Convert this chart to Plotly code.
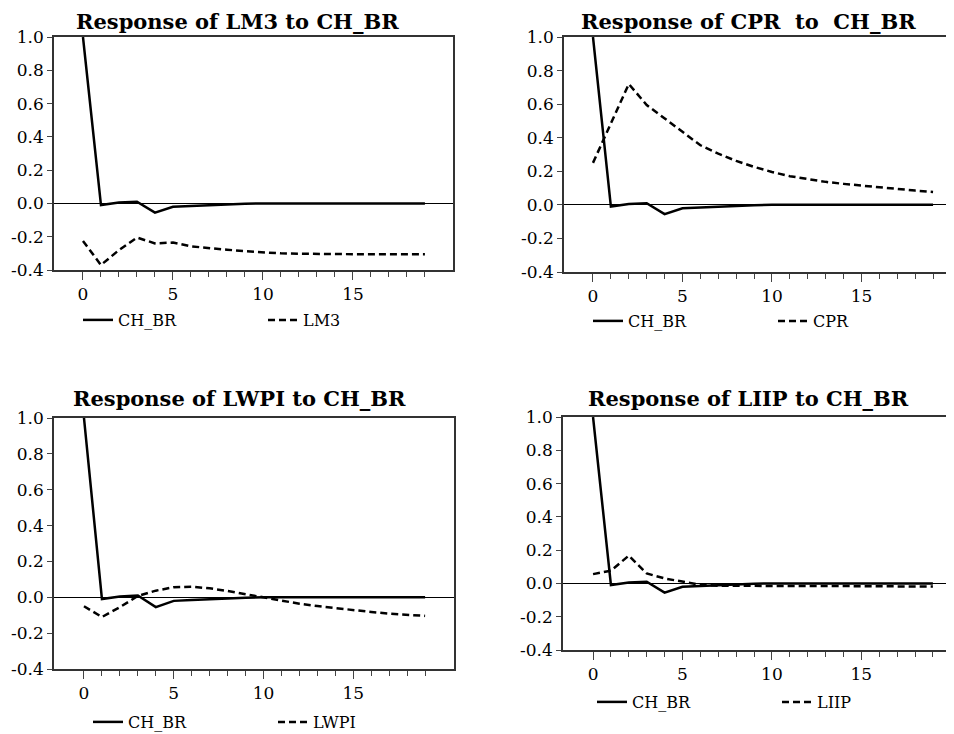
import plotly.graph_objects as go

# Periodos del impulso-respuesta
horizonte = list(range(20))

# Respuesta propia de CH_BR (igual en los cuatro paneles)
ch_br = [1.0, -0.01, 0.005, 0.01, -0.055, -0.02, -0.015, -0.01, -0.005, -0.002,
         0.0, 0.0, 0.0, 0.0, 0.0, 0.0, 0.0, 0.0, 0.0, 0.0]

lm3 = [-0.225, -0.37, -0.28, -0.205, -0.24, -0.235, -0.258, -0.27, -0.278, -0.287,
       -0.294, -0.3, -0.302, -0.304, -0.305, -0.305, -0.305, -0.305, -0.305, -0.305]
cpr = [0.25, 0.48, 0.72, 0.595, 0.515, 0.435, 0.355, 0.305, 0.262, 0.226,
       0.196, 0.171, 0.153, 0.137, 0.125, 0.114, 0.103, 0.093, 0.085, 0.077]
lwpi = [-0.05, -0.11, -0.055, 0.007, 0.037, 0.056, 0.059, 0.05, 0.035, 0.017,
        -0.002, -0.019, -0.036, -0.049, -0.061, -0.072, -0.082, -0.091, -0.099, -0.104]
liip = [0.056, 0.077, 0.167, 0.06, 0.03, 0.01, -0.008, -0.014, -0.015, -0.015,
        -0.015, -0.015, -0.015, -0.016, -0.016, -0.017, -0.017, -0.018, -0.018, -0.019]

variables = ["LM3", "CPR", "LWPI", "LIIP"]
respuestas = [lm3, cpr, lwpi, liip]
titulos = ["Response of LM3 to CH_BR",
           "Response of CPR\u00a0 to\u00a0 CH_BR",
           "Response of LWPI to CH_BR",
           "Response of LIIP to CH_BR"]

y_ticks = [-0.4, -0.2, 0.0, 0.2, 0.4, 0.6, 0.8, 1.0]
y_ticktext = ["-0.4", "-0.2", "0.0", "0.2", "0.4", "0.6", "0.8", "1.0"]
x_major = [0, 5, 10, 15]
x_minor = [v for v in horizonte if v not in x_major]

# La pagina deja 8px de margen en el body: la figura ocupa el resto de la ventana
OFF = 8
W, H = 954 - OFF, 734 - OFF
FUENTE = "DejaVu Serif"


def px_x(px):
    return (px - OFF) / W


def px_y(py):
    return 1 - (py - OFF) / H


# Caja de cada panel en pixeles de la ventana: izquierda, derecha, arriba, abajo, rango x
# (ty = borde superior del titulo)
paneles = [
    dict(l=54, r=453, t=37, b=270, xr=[-1.61, 20.56], tx=237, ty=8, lx=120, ly=320, mirror=True),
    dict(l=564, r=954, t=37, b=272, xr=[-1.62, 20.17], tx=748, ty=8, lx=630, ly=321, mirror=False),
    dict(l=54, r=454, t=418, b=669, xr=[-1.67, 20.61], tx=239, ty=385, lx=130, ly=722, mirror=True),
    dict(l=563, r=954, t=417, b=650, xr=[-1.68, 20.18], tx=748, ty=385, lx=634, ly=702, mirror=False),
]

fig = go.Figure()
layout = {}
anotaciones = []

for i, (var, resp, titulo, p) in enumerate(zip(variables, respuestas, titulos, paneles)):
    n = i + 1
    xa = "x" if n == 1 else f"x{n}"
    ya = "y" if n == 1 else f"y{n}"
    leg = "legend" if n == 1 else f"legend{n}"

    fig.add_trace(go.Scatter(
        x=horizonte, y=ch_br, mode="lines", name="CH_BR",
        line=dict(color="black", width=2.5), xaxis=xa, yaxis=ya, legend=leg
    ))
    fig.add_trace(go.Scatter(
        x=horizonte, y=resp, mode="lines", name=var,
        line=dict(color="black", width=2.5, dash="7px,4px"), xaxis=xa, yaxis=ya, legend=leg
    ))

    xkey = "xaxis" if n == 1 else f"xaxis{n}"
    ykey = "yaxis" if n == 1 else f"yaxis{n}"
    layout[xkey] = dict(
        domain=[px_x(p["l"]), min(px_x(p["r"]), 1.0)], anchor=ya, range=p["xr"],
        tickmode="array", tickvals=x_major, ticks="outside", ticklen=8, tickwidth=1.2,
        tickcolor="#444", showgrid=False, zeroline=False,
        showline=True, linecolor="#333", linewidth=1.5, mirror=True,
        minor=dict(tickmode="array", tickvals=x_minor, ticks="outside", ticklen=5,
                   tickwidth=1.2, tickcolor="#444", showgrid=False),
        tickfont=dict(family=FUENTE, size=17, color="black"),
    )
    layout[ykey] = dict(
        domain=[px_y(p["b"]), px_y(p["t"])], anchor=xa, range=[-0.4, 1.0],
        tickmode="array", tickvals=y_ticks, ticktext=y_ticktext,
        ticks="outside", ticklen=5, tickwidth=1.2, tickcolor="#444",
        showgrid=False, zeroline=True, zerolinecolor="black", zerolinewidth=1,
        showline=True, linecolor="#333", linewidth=1.5, mirror=p["mirror"],
        tickfont=dict(family=FUENTE, size=17, color="black"),
    )
    layout[leg] = dict(
        orientation="h", x=px_x(p["lx"] - 42), xanchor="left",
        y=px_y(p["ly"]), yanchor="middle", entrywidth=140, entrywidthmode="pixels",
        font=dict(family=FUENTE, size=16, color="black"), bgcolor="rgba(0,0,0,0)",
    )
    anotaciones.append(dict(
        text=f"<b>{titulo}</b>", x=px_x(p["tx"]), y=px_y(p["ty"]), xref="paper", yref="paper",
        xanchor="center", yanchor="top", showarrow=False, borderpad=0,
        font=dict(family=FUENTE, size=21, color="black"),
    ))

fig.update_layout(
    width=W, height=H, margin=dict(l=0, r=0, t=0, b=0, autoexpand=False),
    plot_bgcolor="white", paper_bgcolor="white",
    annotations=anotaciones, **layout
)

fig.write_html("out.html")
